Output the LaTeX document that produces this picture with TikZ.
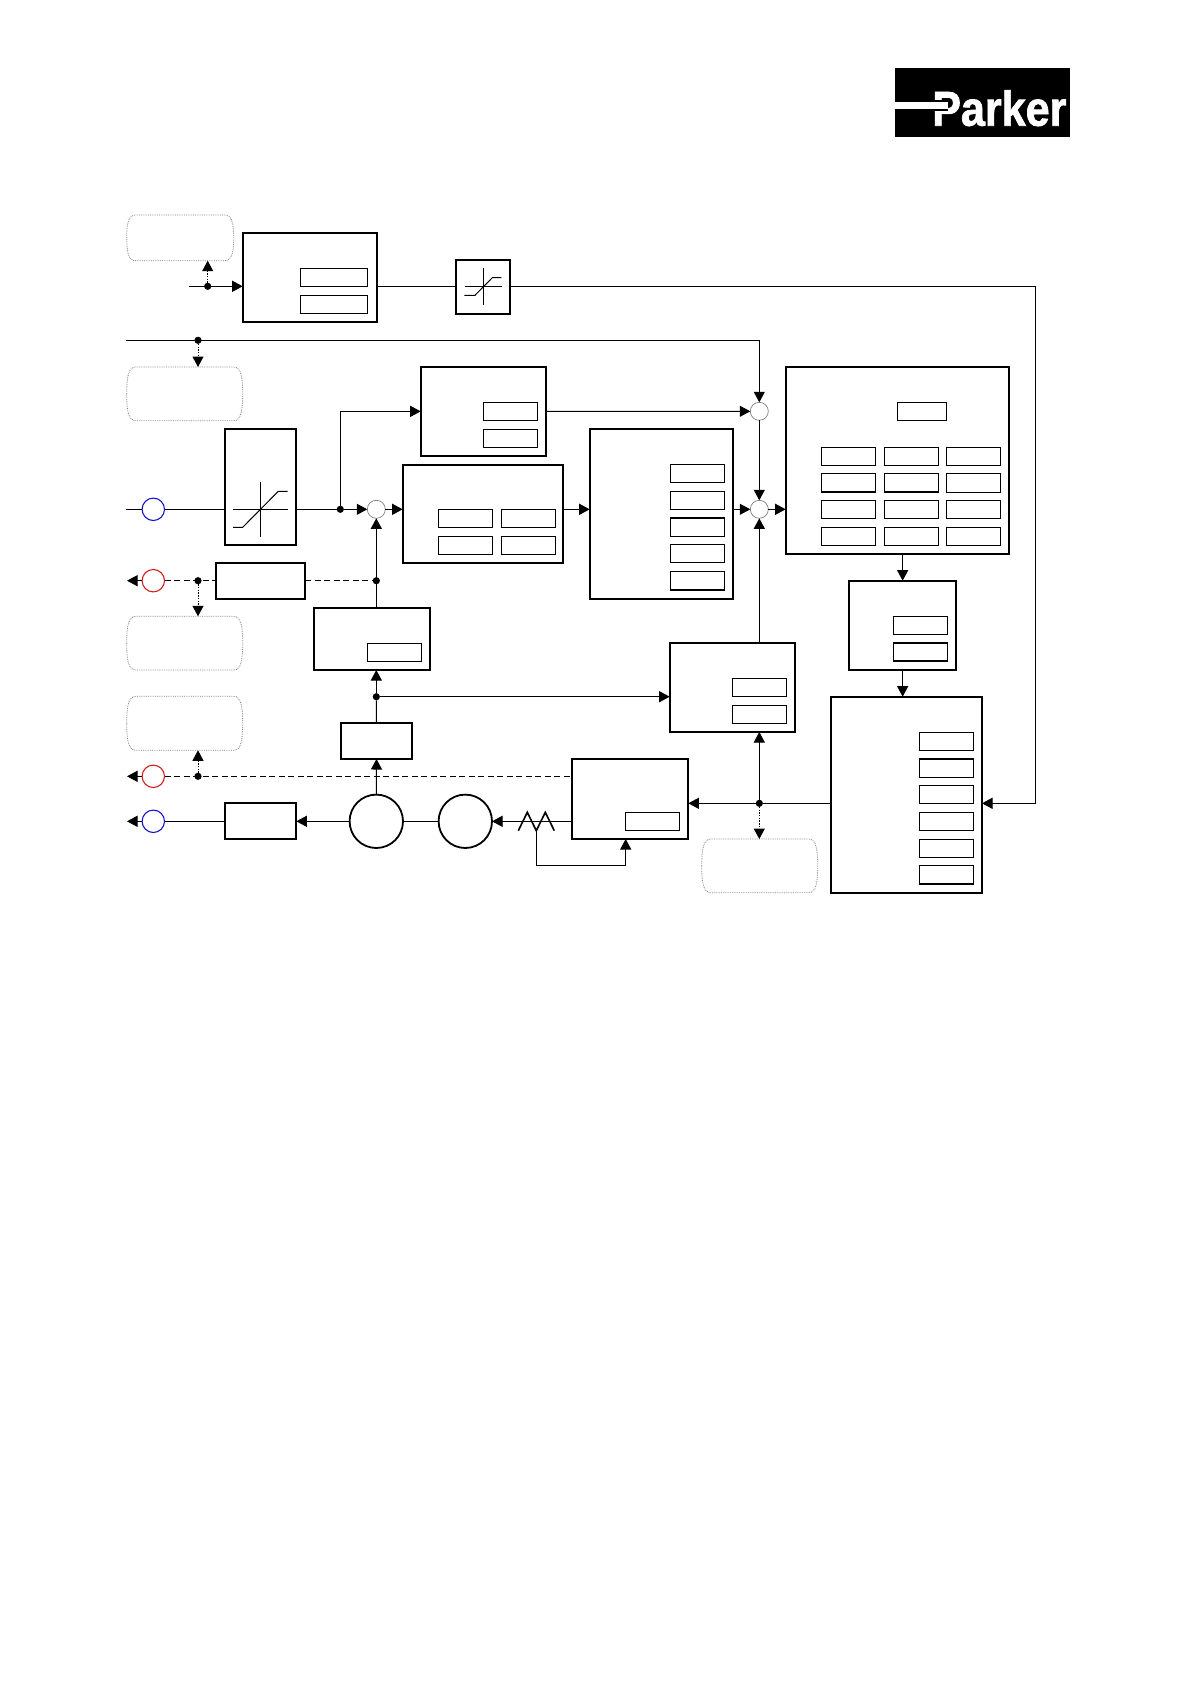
\documentclass[tikz,border=0pt]{standalone}
\usepackage{fontspec}
\newfontfamily\logofont[FakeBold=1.6]{Liberation Sans Bold}
\usetikzlibrary{arrows.meta,calc}
\tikzset{
	mainbox/.style 2 args={draw,line width=2pt,rectangle,anchor=north west,inner sep=0pt,outer sep=0pt,minimum width=#1pt,minimum height=#2pt},
	subbox/.style={draw,line width=1pt,rectangle,anchor=north west,inner sep=0pt,outer sep=0pt,minimum width=#1pt,minimum height=18.4pt},
	subbox/.default=54,
	softbox/.style 2 args={rectangle,anchor=north west,inner sep=0pt,outer sep=0pt,minimum width=#1pt,minimum height=#2pt},
	softline/.style={gray,line width=0.8pt,densely dotted},
	sumnode/.style={draw=gray,line width=0.7pt,circle,fill=white,inner sep=0pt,outer sep=0pt,minimum size=18pt},
	portnode/.style={draw=#1,line width=1.1pt,circle,inner sep=0pt,outer sep=0pt,minimum size=22.4pt},
	machine/.style={draw,line width=1.8pt,circle,inner sep=0pt,outer sep=0pt,minimum size=53.4pt},
	dotnode/.style={fill,circle,inner sep=0pt,outer sep=0pt,minimum size=7.2pt},
	wire/.style={line width=1pt},
	dashwire/.style={line width=1pt,dash pattern=on 6pt off 3.5pt},
	dotwire/.style={line width=1pt,dash pattern=on 1.4pt off 1.3pt},
}
\definecolor{portblue}{RGB}{20,20,200}
\definecolor{portred}{RGB}{210,30,30}
\begin{document}
\begin{tikzpicture}[x=1pt,y=-1pt,>={Triangle[length=10.5pt,width=11pt]}]
\useasboundingbox (0,0) rectangle (1191,1684);

% Logo
\fill[black] (895,68) rectangle (1070,136.7);
\node[anchor=base west,inner sep=0pt,text=white] (logo) at (932,125.7) {\scalebox{.88}[1]{\fontsize{49}{49}\logofont Parker}};
\fill[black] (931,99.7) rectangle (948,111.3);
\fill[white] (895,101.7) rectangle (948,109.3);

% Blocks
\node[mainbox={134}{89}] (rateb) at (242.7,233.3) {};
\node[mainbox={53.7}{54.3}] (limitb) at (456.3,259.7) {};
\node[mainbox={71.6}{116}] (satb) at (224.7,429) {};
\node[mainbox={125.3}{89.3}] (ffb) at (420.7,366.7) {};
\node[mainbox={160.6}{97.7}] (pidb) at (402.7,465) {};
\node[mainbox={143.6}{169.7}] (filtb) at (589.7,429) {};
\node[mainbox={223.3}{187.3}] (mainb) at (785.7,366.7) {};
\node[mainbox={107.3}{89.3}] (lowb) at (849,580.7) {};
\node[mainbox={151.3}{196}] (powb) at (830.7,696.7) {};
\node[mainbox={125.3}{89}] (curb) at (669.7,643) {};
\node[mainbox={116.3}{80.3}] (pwmb) at (572,758.7) {};
\node[mainbox={89.6}{36}] (gainb) at (215.7,562.7) {};
\node[mainbox={116.6}{62.3}] (fbtb) at (313.7,607.7) {};
\node[mainbox={71.6}{36}] (speedb) at (340.7,723) {};
\node[mainbox={71.6}{35.7}] (outb) at (224.7,803.3) {};

% Value fields inside the blocks
\foreach \i/\x/\y in {a/300.3/268.3,b/300.3/295.3}
\node[subbox=67.4] (ratefield\i) at (\x,\y) {};
\foreach \i/\x/\y in {a/483.3/402.3,b/483.3/429.3,c/438.3/509.3,d/501.3/509.3,e/438.3/536.3,f/501.3/536.3,g/367.3/643.3,h/732.3/678.3,i/732.3/705.3,j/625.3/812.3,k/893.3/616.3,l/893.3/642.8}
\node[subbox] (field\i) at (\x,\y) {};
\foreach \i/\y in {a/464.3,b/491.3,c/518,d/544.3,e/571.7}
\node[subbox] (filtfield\i) at (670.3,\y) {};
\node[subbox=49.4] (maintop) at (897.3,402.3) {};
\foreach \y [count=\r] in {447.3,473.7,500.3,527.3}
\foreach \x [count=\c] in {821.3,884.3,946.3}
\node[subbox] (grid\r\c) at (\x,\y) {};
\foreach \y [count=\r] in {732.3,758.9,785.3,812.3,839.3,865.6}
\node[subbox] (pow\r) at (919.3,\y) {};
% heavier outlines
\foreach \n in {grid12,grid13,grid21,grid22,filtfieldc,filtfielde,pow2,pow6,fieldl}
\draw[line width=1.5pt] (\n.north west) rectangle (\n.south east);

% Note shapes, drawn dotted
\node[softbox={107}{45.7}] (softa) at (126.7,215) {};
\node[softbox={116}{53.7}] (softb) at (126.7,367) {};
\node[softbox={116}{53.7}] (softc) at (126.7,616.3) {};
\node[softbox={116}{54}] (softd) at (126.7,696.3) {};
\node[softbox={116}{53.7}] (softe) at (701.7,839) {};
\foreach \n in {softa,softb,softc,softd,softe}
\draw[softline] (\n.west) .. controls ($(\n.west)!.6!(\n.north west)$) and ($(\n.north west)+(1.5,0)$) .. ($(\n.north west)+(9,0)$)
-- ($(\n.north east)+(-9,0)$) .. controls ($(\n.north east)+(-1.5,0)$) and ($(\n.east)!.6!(\n.north east)$) .. (\n.east)
.. controls ($(\n.east)!.6!(\n.south east)$) and ($(\n.south east)+(-1.5,0)$) .. ($(\n.south east)+(-9,0)$)
-- ($(\n.south west)+(9,0)$) .. controls ($(\n.south west)+(1.5,0)$) and ($(\n.west)!.6!(\n.south west)$) .. (\n.west);

% Summing points, ports, machines, branch points
\node[sumnode] (suma) at (759.3,411.3) {};
\node[sumnode] (sumb) at (759.3,509.3) {};
\node[sumnode] (sumc) at (376.3,509.3) {};
\node[portnode=portblue] (bluea) at (153.3,509.3) {};
\node[portnode=portred] (reda) at (153.3,580.7) {};
\node[portnode=portred] (redb) at (153.3,776.3) {};
\node[portnode=portblue] (blueb) at (153.3,821.3) {};
\node[machine] (encb) at (376.3,821.3) {};
\node[machine] (motb) at (465.3,821.3) {};
\node[dotnode] (ratedot) at (207.7,286.3) {};
\node[dotnode] (busdot) at (198,340.3) {};
\node[dotnode] (satdot) at (340.3,509.3) {};
\node[dotnode] (fbdot) at (376.3,580.7) {};
\node[dotnode] (reddota) at (198,580.7) {};
\node[dotnode] (fbdotb) at (376.3,696.7) {};
\node[dotnode] (reddotb) at (198,776.3) {};
\node[dotnode] (powdot) at (759.3,803.3) {};
\coordinate (ratein) at (188.7,286.3);
\coordinate (busin) at (126.3,340.3);
\coordinate (inleft) at (126.3,509.3);
\coordinate (redaout) at (127,580.7);
\coordinate (redbout) at (127,776.3);
\coordinate (bluebout) at (127,821.3);
\coordinate (limcorner) at (1035.3,286.3);
\coordinate (shunt) at (536.3,830.7);
\coordinate (pwmin) at (625.7,865.3);

% Saturation curves
\draw[wire] (465,286.3) -- (501.7,286.3) (483.3,268.3) -- (483.3,305.3);
\draw[wire] (464.3,295.3) -- (475,295.3) -- (492.3,277.7) -- (501.3,277.7);
\draw[wire] (233,509.3) -- (287.7,509.3) (260.3,482.3) -- (260.3,536.7);
\draw[wire] (233,527.3) -- (242.7,527.3) -- (278.3,491.3) -- (287.7,491.3);
% Shunt
\draw[line width=1.6pt] (518.3,830.7) -- (527.3,812.3) -- (shunt) -- (545.3,812.3) -- (554.3,830.7);

% Connectors
\draw[wire,->] (ratein) -- (ratein -| rateb.west);
\draw[dotwire,->] (ratedot) -- (ratedot |- softa.south);
\draw[wire] (ratein -| rateb.east) -- (ratein -| limitb.west);
\draw[wire,->] (ratein -| limitb.east) -- (limcorner) |- (powdot -| powb.east);
\draw[wire,->] (busin) -- (busin -| suma) -- (suma);
\draw[dotwire,->] (busdot) -- (busdot |- softb.north);
\draw[wire] (inleft) -- (bluea);
\draw[wire] (bluea) -- (bluea -| satb.west);
\draw[wire] (sumc -| satb.east) -- (satdot);
\draw[wire,->] (satdot) -- (sumc);
\draw[wire,->] (satdot) |- (ffb.west);
\draw[wire,->] (ffb.east) -- (suma);
\draw[wire,->] (suma) -- (sumb);
\draw[wire,->] (sumc) -- (sumc -| pidb.west);
\draw[wire,->] (sumc -| pidb.east) -- (sumc -| filtb.west);
\draw[wire,->] (sumb -| filtb.east) -- (sumb);
\draw[wire,->] (sumb) -- (sumb -| mainb.west);
\draw[wire,->] (lowb.north |- mainb.south) -- (lowb.north);
\draw[wire,->] (lowb.south) -- (lowb.south |- powb.north);
\draw[wire,->] (sumb |- curb.north) -- (sumb);
\draw[wire,->] (sumc |- fbtb.north) -- (sumc);
\draw[wire,->] (reda) -- (redaout);
\draw[dashwire] (reda) -- (gainb.west);
\draw[dashwire] (gainb.east) -- (fbdot);
\draw[dotwire,->] (reddota) -- (reddota |- softc.north);
\draw[wire,->] (fbdotb) -- (fbdotb |- fbtb.south);
\draw[wire] (speedb.north) -- (fbdotb);
\draw[wire,->] (fbdotb) -- (fbdotb -| curb.west);
\draw[wire,->] (encb) -- (speedb.south);
\draw[wire,->] (redb) -- (redbout);
\draw[dashwire] (redb) -- (redb -| pwmb.west);
\draw[dotwire,->] (reddotb) -- (reddotb |- softd.south);
\draw[wire,->] (encb) -- (encb -| outb.east);
\draw[wire] (outb.west |- blueb) -- (blueb);
\draw[wire,->] (blueb) -- (bluebout);
\draw[wire] (motb) -- (encb);
\draw[wire,->] (blueb -| pwmb.west) -- (motb);
\draw[wire,->] (shunt) |- (pwmin) -- (pwmin |- pwmb.south);
\draw[wire] (powdot -| powb.west) -- (powdot);
\draw[wire,->] (powdot) -- (powdot -| pwmb.east);
\draw[wire,->] (powdot) -- (powdot |- curb.south);
\draw[dotwire,->] (powdot) -- (powdot |- softe.north);
\end{tikzpicture}
\end{document}
